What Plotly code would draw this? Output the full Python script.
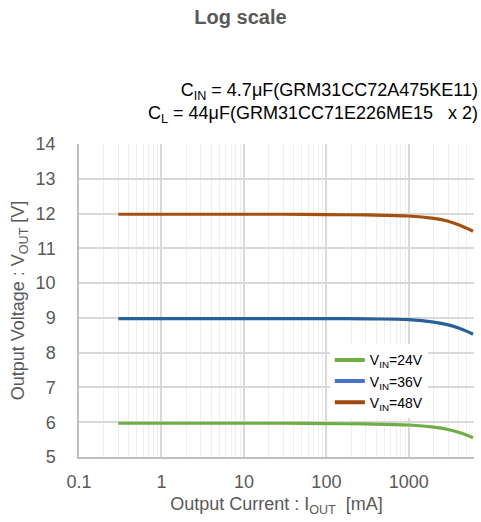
import plotly.graph_objects as go

# Data
iout_ma = [0.3, 1, 3, 10, 30, 100, 300, 1000, 2000, 3000, 4000, 5000, 6000]
v_24 = [5.97, 5.97, 5.97, 5.97, 5.97, 5.96, 5.95, 5.92, 5.86, 5.79, 5.71, 5.63, 5.55]
v_36 = [8.98, 8.98, 8.98, 8.98, 8.98, 8.98, 8.97, 8.95, 8.88, 8.80, 8.71, 8.62, 8.53]
v_48 = [11.98, 11.98, 11.98, 11.98, 11.98, 11.97, 11.96, 11.93, 11.86, 11.78, 11.68, 11.58, 11.49]
series_names = ["V<sub>IN</sub>=24V", "V<sub>IN</sub>=36V", "V<sub>IN</sub>=48V"]
line_colors = ["#70AD47", "#2A6099", "#A5500F"]
legend_colors = ["#70AD47", "#4472C4", "#9E480E"]
x_tickvals = [0.1, 1, 10, 100, 1000]
x_ticktext = ["0.1", "1", "10", "100", "1000"]

FONT = "Liberation Sans, Arial, sans-serif"
TXT = "#595959"

fig = go.Figure()
for ys, c in zip([v_24, v_36, v_48], line_colors):
    fig.add_trace(go.Scatter(x=iout_ma, y=ys, mode="lines", line=dict(color=c, width=3.2, shape="spline"),
                             showlegend=False, hoverinfo="skip"))
for name, c in zip(series_names, legend_colors):
    fig.add_trace(go.Scatter(x=[None], y=[None], mode="lines", name=name, line=dict(color=c, width=4)))

fig.update_layout(
    width=481, height=522,
    margin=dict(l=79, r=7, t=144, b=65),
    paper_bgcolor="white", plot_bgcolor="white",
    font=dict(family=FONT, color=TXT, size=18),
    title=dict(text="<b>Log scale</b>", x=0.5, xanchor="center", y=0.967, yanchor="middle",
               font=dict(size=20, color=TXT, family=FONT)),
    showlegend=True,
    legend=dict(x=0.635, y=0.36, xanchor="left", yanchor="top", bgcolor="white",
                font=dict(size=14, color="#000000", family=FONT), itemwidth=30,
                tracegroupgap=0, borderwidth=0),
    xaxis=dict(type="log", range=[-1, 3.79], tickvals=x_tickvals, ticktext=x_ticktext,
               showgrid=True, gridcolor="#d9d9d9", gridwidth=1.5,
               minor=dict(showgrid=True, gridcolor="#eeeeee", gridwidth=1, dtick="D1", ticks=""),
               showline=True, linecolor="#bfbfbf", linewidth=1.5, ticks="", zeroline=False,
               tickfont=dict(size=18, color=TXT), ticklabelstandoff=8,
               title=dict(text="Output Current : I<sub>OUT</sub>  [mA]", font=dict(size=18, color=TXT), standoff=6)),
    yaxis=dict(range=[5, 14], dtick=1, showgrid=True, gridcolor="#d9d9d9", gridwidth=1.5,
               showline=True, linecolor="#bfbfbf", linewidth=1.5, ticks="", zeroline=False,
               tickfont=dict(size=18, color=TXT), ticklabelstandoff=18,
               title=dict(text="Output Voltage : V<sub>OUT</sub> [V]", font=dict(size=18, color=TXT), standoff=6)),
    annotations=[
        dict(text="C<sub>IN</sub> = 4.7μF(GRM31CC72A475KE11)<br>C<sub>L</sub> = 44μF(GRM31CC71E226ME15   x 2)",
             xref="paper", yref="paper", x=1.015, y=1.05, xanchor="right", yanchor="bottom", align="right",
             showarrow=False, font=dict(size=18, color="#000000", family=FONT)),
    ],
)

fig.write_html("out.html")
